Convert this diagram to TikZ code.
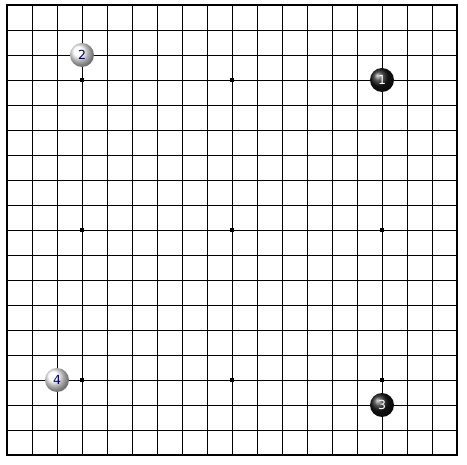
\documentclass[tikz,border=0pt]{standalone}
\usepackage{fontspec}
\setmainfont{DejaVu Sans}
\usetikzlibrary{shadings}
\begin{document}
\begin{tikzpicture}[x=1pt,y=-1pt,
  gridline/.style={line width=0.9pt,black},
  boardedge/.style={line width=2pt,black},
  starpt/.style={fill=black,minimum size=4pt,inner sep=0pt,rectangle},
  blackstone/.style={circle,minimum size=24pt,inner sep=0pt,shading=ball,ball color=black!90,text=white,font=\fontsize{12.5}{13}\selectfont},
  whitestone/.style={circle,minimum size=24pt,inner sep=0pt,shading=ball,ball color=white,text=blue!30!black,font=\fontsize{12.5}{13}\selectfont}]
\useasboundingbox (0,0) rectangle (467,465);
\fill[white] (0,0) rectangle (467,465);
% grid
\foreach \i in {1,...,17}{
  \draw[gridline] ({7+25*\i},5) -- ({7+25*\i},455);
  \draw[gridline] (7,{5+25*\i}) -- (457,{5+25*\i});
}
\draw[boardedge] (7,5) rectangle (457,455);
% star points
\foreach \c in {3,9,15}{
  \foreach \r in {3,9,15}{
    \node[starpt] (s\c-\r) at ({7+25*\c},{5+25*\r}) {};
  }
}
% stones
\node[blackstone] (st1) at ({7+25*15},{5+25*3}) {1};
\node[whitestone] (st2) at ({7+25*3},{5+25*2}) {2};
\node[blackstone] (st3) at ({7+25*15},{5+25*16}) {3};
\node[whitestone] (st4) at ({7+25*2},{5+25*15}) {4};
\end{tikzpicture}
\end{document}
